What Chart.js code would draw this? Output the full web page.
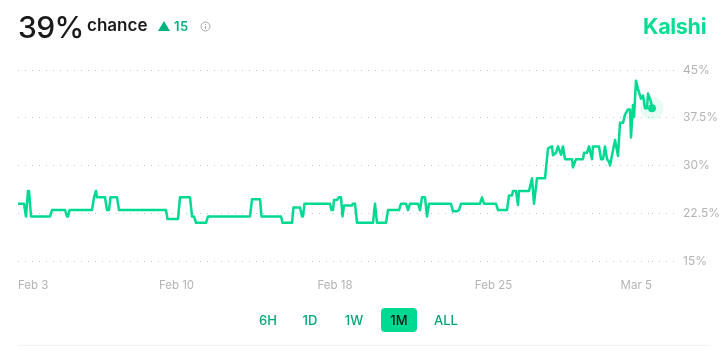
<!DOCTYPE html>
<html>
<head>
<meta charset="utf-8">
<script src="https://cdn.jsdelivr.net/npm/chart.js@4"></script>
<style>
    html, body { margin: 0; padding: 0; background: #fff; }
    body { width: 727px; height: 351px; position: relative; overflow: hidden; font-family: Inter, sans-serif; }
    canvas { position: absolute; left: 0; top: 0; }
    .txt { position: absolute; white-space: nowrap; line-height: 1; }
    #pct { left: 18px; top: 12px; font-size: 30px; font-weight: 500; letter-spacing: -0.6px; color: #1a1a1a; }
    #chance { left: 87px; top: 17px; font-size: 17px; font-weight: 600; color: #1a1a1a; }
    #tri { position: absolute; left: 158px; top: 21px; width: 0; height: 0; border-left: 6px solid transparent; border-right: 6px solid transparent; border-bottom: 10px solid #00b37e; }
    #delta { left: 174px; top: 20px; font-size: 13px; font-weight: 600; color: #00b37e; letter-spacing: 0.4px; }
    #info { position: absolute; left: 200px; top: 21px; }
    #brand { left: 643px; top: 16px; font-size: 21.5px; font-weight: 700; color: #00dd94; letter-spacing: -0.3px; }
    .btn { position: absolute; top: 308px; height: 24px; line-height: 24px; text-align: center; font-size: 13px; font-weight: 500; color: #00a878; border-radius: 4px; }
    .btn.on { background: #00d991; color: #0b1a14; }
    #rule { position: absolute; left: 18px; top: 345px; width: 691px; height: 1px; background: #f2f2f2; }
</style>
</head>
<body>
<canvas id="myChart" width="727" height="351"></canvas>
<div class="txt" id="pct">39%</div>
<div class="txt" id="chance">chance</div>
<div id="tri"></div>
<div class="txt" id="delta">15</div>
<svg id="info" width="11" height="11" viewBox="0 0 11 11">
    <circle cx="5.5" cy="5.5" r="4.5" fill="none" stroke="#a8a8a8" stroke-width="1"/>
    <rect x="5" y="5" width="1" height="3" fill="#a8a8a8"/>
    <rect x="5" y="3" width="1" height="1" fill="#a8a8a8"/>
</svg>
<div class="txt" id="brand">Kalshi</div>
<div class="btn" style="left:254px;width:28px">6H</div>
<div class="btn" style="left:296px;width:28px">1D</div>
<div class="btn" style="left:340px;width:28px">1W</div>
<div class="btn on" style="left:381px;width:36px">1M</div>
<div class="btn" style="left:431px;width:30px">ALL</div>
<div id="rule"></div>
<script>
// Time position of each reading along the month, and the chance in percent
const steps = [0, 6, 8, 10, 11, 13, 32, 34, 47, 49, 50, 51.5, 74, 76, 78, 79, 87, 89, 91, 92.5, 99, 101, 148, 149.5, 160, 162, 172, 174, 176, 178, 188, 190, 232, 234, 242, 243.5, 263, 264.5, 274, 275.5, 282, 284, 285, 286.5, 312, 313.5, 315, 316, 319, 321, 323, 324.5, 326, 334, 335, 337, 339, 355, 357, 359, 368, 370, 381, 383, 388, 390, 392, 400, 402, 404, 407, 409, 411, 433, 435, 439, 441, 443, 462, 464, 466, 478, 480, 489, 491, 494, 495, 498, 500, 501, 511, 514, 516, 519, 527, 530, 534, 535, 538, 540, 543, 545, 547, 554, 555, 558, 565, 566, 569, 571, 574, 575, 581, 583, 585, 587, 589, 591, 592, 597, 600, 602, 605, 607, 610, 612, 613, 615, 616, 618, 620, 623, 625, 627, 629, 630, 633, 634];
const values = [24, 24, 22, 26, 26, 22, 22, 23, 23, 22, 22, 23, 23, 25, 26, 25, 25, 23, 23, 25, 25, 23, 23, 21.6, 21.6, 25, 25, 22, 22, 21, 21, 22, 22, 24.7, 24.7, 22, 22, 21, 21, 23.4, 23.4, 22, 22, 24, 24, 23, 23, 24.6, 24.6, 25, 25, 22, 23.7, 23.7, 24, 24, 21, 21, 24, 21, 21, 23, 23, 24, 24, 23, 24, 24, 23, 25, 25, 22, 24, 24, 22.8, 22.8, 23, 24, 24, 25, 24, 24, 23, 23, 25.3, 25.3, 26, 26, 23.8, 26, 26, 28, 24, 28, 28, 32.7, 33, 31.6, 32, 33, 31.7, 33, 31, 31, 29.7, 31, 31, 32, 32, 33, 31, 33, 33, 31, 31, 33, 31, 30.6, 30, 34, 31.5, 36.7, 36.7, 38, 38.8, 38.8, 34.4, 39.5, 37.6, 43.3, 42, 40.5, 41, 39, 39, 41.3, 40, 39];

// Axis labels
const xTickSteps = [0, 158.5, 317, 475.5, 634];
const xTickLabels = ['Feb 3', 'Feb 10', 'Feb 18', 'Feb 25', 'Mar 5'];
const yTicks = [15, 22.5, 30, 37.5, 45];

const lineColor = '#00d991';
const lastIndex = values.length - 1;

new Chart(document.getElementById('myChart').getContext('2d'), {
    type: 'line',
    data: {
        datasets: [{
            data: steps.map((s, i) => ({ x: s, y: values[i] })),
            borderColor: lineColor,
            backgroundColor: lineColor,
            borderWidth: 2.5,
            borderJoinStyle: 'round',
            tension: 0,
            clip: false,
            pointRadius: ctx => (ctx.dataIndex === lastIndex ? 4 : 0),
            pointBorderWidth: 0,
            order: 1
        }, {
            // soft halo behind the latest reading
            data: [{ x: steps[lastIndex], y: values[lastIndex] }],
            showLine: false,
            clip: false,
            pointRadius: 11.5,
            backgroundColor: 'rgba(0, 217, 145, 0.1)',
            borderWidth: 0,
            pointBorderWidth: 0,
            order: 2
        }]
    },
    options: {
        responsive: false,
        animation: false,
        layout: { padding: { left: 18, top: 70 } },
        plugins: { legend: { display: false }, tooltip: { enabled: false } },
        scales: {
            x: {
                type: 'linear',
                min: 0,
                max: 634,
                grid: { display: false },
                border: { display: false },
                afterBuildTicks: axis => { axis.ticks = xTickSteps.map(v => ({ value: v })); },
                afterFit: axis => { axis.height = 90; },
                ticks: {
                    align: 'inner',
                    autoSkip: false,
                    maxRotation: 0,
                    padding: 10,
                    color: '#b4b4b4',
                    font: { family: 'Inter', size: 11.5 },
                    callback: v => xTickLabels[xTickSteps.indexOf(v)]
                }
            },
            y: {
                position: 'right',
                min: 15,
                max: 45,
                border: { display: false, dash: [1, 6] },
                grid: {
                    color: '#c4c4c4',
                    lineWidth: 1,
                    tickLength: 28,
                    tickColor: '#c4c4c4',
                    tickBorderDash: [1, 6]
                },
                afterBuildTicks: axis => { axis.ticks = yTicks.map(v => ({ value: v })); },
                afterFit: axis => { axis.width = 75; },
                ticks: {
                    padding: 3,
                    color: '#b4b4b4',
                    font: { family: 'Inter', size: 12 },
                    callback: v => v + '%'
                }
            }
        }
    }
});
</script>
</body>
</html>
